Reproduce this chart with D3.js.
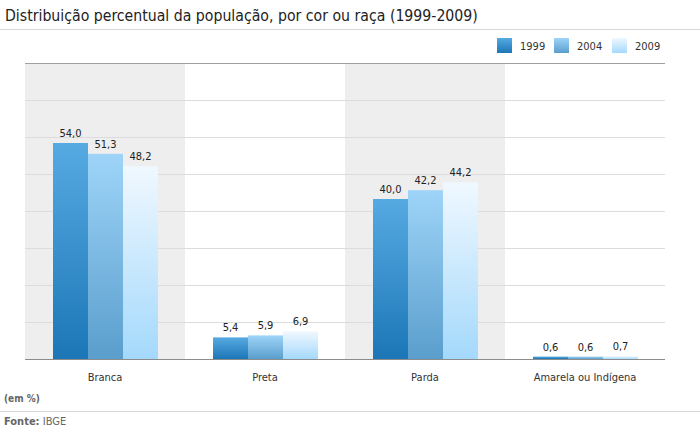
<!DOCTYPE html>
<html>
<head>
<meta charset="utf-8">
<script src="https://cdn.jsdelivr.net/npm/d3@7"></script>
<style>
  body { margin: 0; background: #fff; }
  text { font-family: Tahoma, "DejaVu Sans Condensed", "DejaVu Sans", sans-serif; }
</style>
</head>
<body>
<svg width="700" height="432"></svg>
<script>
// data
const categories = ['Branca', 'Preta', 'Parda', 'Amarela ou Indígena']
const years = ['1999', '2004', '2009']
const values1999 = [54.0, 5.4, 40.0, 0.6]
const values2004 = [51.3, 5.9, 42.2, 0.6]
const values2009 = [48.2, 6.9, 44.2, 0.7]

const series = [values1999, values2004, values2009]

const svg = d3.select('svg')
const width = +svg.attr('width')

// gradients for each year
const gradColors = [
    ['#56aae2', '#1c76b6'],
    ['#9ed4f8', '#5a9ecd'],
    ['#f0f8ff', '#a4d9fc']
]
const defs = svg.append('defs')
gradColors.forEach((c, i) => {
    const lg = defs.append('linearGradient')
        .attr('id', 'g' + i)
        .attr('x1', 0).attr('y1', 0).attr('x2', 0).attr('y2', 1)
    lg.append('stop').attr('offset', '0%').attr('stop-color', c[0])
    lg.append('stop').attr('offset', '100%').attr('stop-color', c[1])
})

// title
svg.append('text')
    .attr('x', 5).attr('y', 21)
    .attr('font-size', 15.7)
    .attr('fill', '#222')
    .text('Distribuição percentual da população, por cor ou raça (1999-2009)')

svg.append('line')
    .attr('x1', 0).attr('x2', width)
    .attr('y1', 29.5).attr('y2', 29.5)
    .attr('stroke', '#d6d6d6')

// plot area
const plotLeft = 25, plotRight = 665, plotTop = 63, plotBottom = 359

const x = d3.scaleBand()
    .domain(categories)
    .range([plotLeft, plotRight])

const xInner = d3.scaleBand()
    .domain(years)
    .range([28, x.bandwidth() - 27])

const y = d3.scaleLinear()
    .domain([0, 74])
    .range([plotBottom, plotTop])

// shaded bands
svg.append('g')
    .selectAll('rect')
    .data(categories.filter((d, i) => i % 2 === 0))
    .join('rect')
        .attr('x', d => x(d))
        .attr('y', plotTop)
        .attr('width', x.bandwidth())
        .attr('height', plotBottom - plotTop)
        .attr('fill', '#eeeeee')

// gridlines
const gridTicks = d3.range(1, 8).map(i => 74 * i / 8)
svg.append('g')
    .selectAll('line')
    .data(gridTicks)
    .join('line')
        .attr('x1', plotLeft).attr('x2', plotRight)
        .attr('y1', d => Math.round(y(d)) + 0.5)
        .attr('y2', d => Math.round(y(d)) + 0.5)
        .attr('stroke', '#dcdcdc')

svg.append('line')
    .attr('x1', plotLeft).attr('x2', plotRight)
    .attr('y1', plotTop + 0.5).attr('y2', plotTop + 0.5)
    .attr('stroke', '#a0a0a0')

// bars
const groups = svg.append('g')
    .selectAll('g')
    .data(categories)
    .join('g')
        .attr('transform', d => `translate(${x(d)},0)`)

groups.selectAll('rect')
    .data((d, i) => years.map((yr, j) => ({ yr, j, v: series[j][i] })))
    .join('rect')
        .attr('x', d => xInner(d.yr))
        .attr('y', d => y(d.v))
        .attr('width', xInner.bandwidth())
        .attr('height', d => plotBottom - y(d.v))
        .attr('fill', d => `url(#g${d.j})`)

groups.selectAll('text')
    .data((d, i) => years.map((yr, j) => ({ yr, j, v: series[j][i] })))
    .join('text')
        .attr('x', d => xInner(d.yr) + xInner.bandwidth() / 2)
        .attr('y', d => y(d.v) - 6)
        .attr('text-anchor', 'middle')
        .attr('font-size', 11)
        .attr('fill', '#222')
        .text(d => d3.format('.1f')(d.v).replace('.', ','))

// baseline
svg.append('line')
    .attr('x1', plotLeft).attr('x2', plotRight)
    .attr('y1', plotBottom + 0.5).attr('y2', plotBottom + 0.5)
    .attr('stroke', '#8c8c8c')

// category labels
svg.append('g')
    .selectAll('text')
    .data(categories)
    .join('text')
        .attr('x', d => x(d) + x.bandwidth() / 2)
        .attr('y', 381)
        .attr('text-anchor', 'middle')
        .attr('font-size', 11)
        .attr('fill', '#333')
        .text(d => d)

// legend
const legendX = [497, 554, 612]
const legend = svg.append('g')
    .selectAll('g')
    .data(years)
    .join('g')
        .attr('transform', (d, i) => `translate(${legendX[i]},38)`)
legend.append('rect')
    .attr('width', 15).attr('height', 15)
    .attr('fill', (d, i) => `url(#g${i})`)
legend.append('text')
    .attr('x', 23).attr('y', 12)
    .attr('font-size', 11)
    .attr('fill', '#333')
    .text(d => d)

// footer
svg.append('text')
    .attr('x', 4).attr('y', 402)
    .attr('font-size', 10)
    .attr('font-weight', 'bold')
    .attr('fill', '#666')
    .text('(em %)')

svg.append('line')
    .attr('x1', 0).attr('x2', width)
    .attr('y1', 411.5).attr('y2', 411.5)
    .attr('stroke', '#d6d6d6')

const src = svg.append('text')
    .attr('x', 4).attr('y', 425)
    .attr('font-size', 11)
    .attr('fill', '#666')
src.append('tspan').attr('font-weight', 'bold').text('Fonte:')
src.append('tspan').text(' IBGE')
</script>
</body>
</html>
